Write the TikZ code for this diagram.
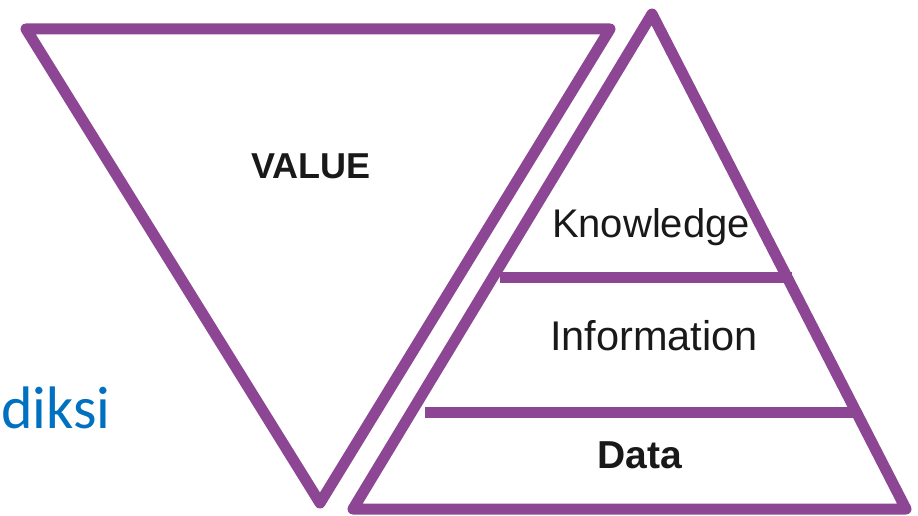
\documentclass[tikz,border=0pt]{standalone}
\usepackage{fontspec}
\setmainfont{Liberation Sans}
\newfontfamily\calib{Carlito}
\definecolor{tripurple}{RGB}{140,70,148}
\definecolor{officeblue}{RGB}{0,112,192}
\tikzset{
  triline/.style={draw=tripurple, line width=11pt, line join=round},
  barline/.style={draw=tripurple, line width=11pt, line cap=butt},
  lbl/.style={anchor=base, inner sep=0pt, text=black!90},
}
\begin{document}
\begin{tikzpicture}[x=1pt,y=-1pt]
\useasboundingbox (0,0) rectangle (918,516);
% inverted triangle (VALUE)
\coordinate (vtl) at (26,29);
\coordinate (vtr) at (610,29);
\coordinate (vb) at (320,503);
\draw[triline] (vtl) -- (vtr) -- (vb) -- cycle;
% upright triangle (pyramid)
\coordinate (pa) at (652,14);
\coordinate (pbl) at (353,509);
\coordinate (pbr) at (906,509);
\draw[triline] (pa) -- (pbr) -- (pbl) -- cycle;
% level bars
\coordinate (b1l) at (500,277);
\coordinate (b1r) at (792,277);
\coordinate (b2l) at (425,412);
\coordinate (b2r) at (857,412);
\draw[barline] (b1l) -- (b1r);
\draw[barline] (b2l) -- (b2r);
% labels
\node[lbl, font=\fontsize{36}{36}\selectfont\bfseries] (value) at (311,178) {VALUE};
\node[lbl, font=\fontsize{40}{40}\selectfont] (know) at (651,237) {Knowledge};
\node[lbl, font=\fontsize{41.5}{41.5}\selectfont] (info) at (654,350) {Information};
\node[lbl, font=\fontsize{39}{39}\selectfont\bfseries] (data) at (640,468) {Data};
\node[anchor=base west, inner sep=0pt, text=officeblue, font=\calib\fontsize{60}{60}\selectfont] (diksi) at (1,428) {diksi};
\end{tikzpicture}
\end{document}
